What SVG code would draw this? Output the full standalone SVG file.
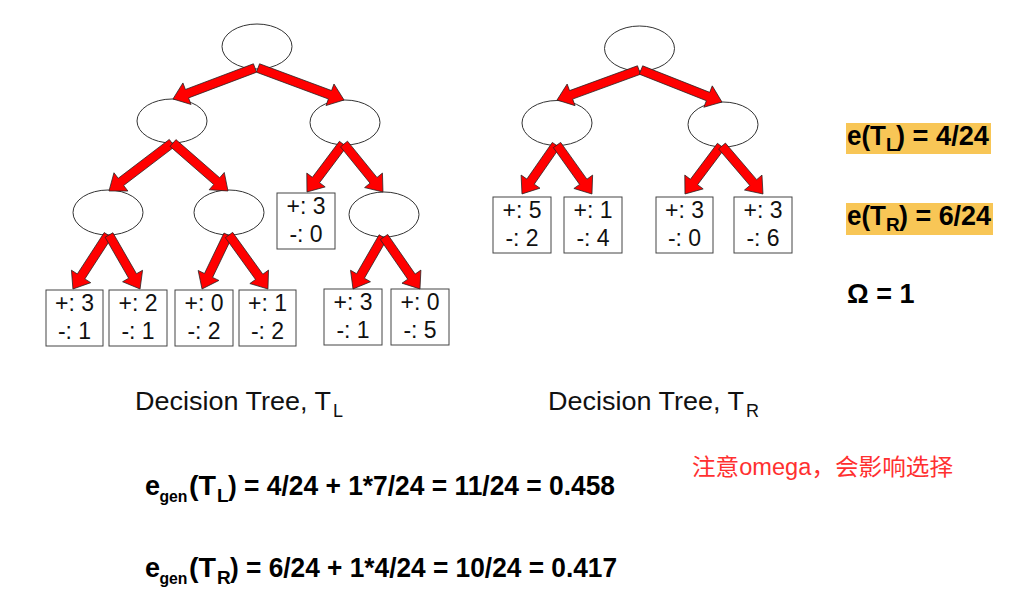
<svg xmlns="http://www.w3.org/2000/svg" width="1028" height="603" viewBox="0 0 1028 603">
<style>
.nd{fill:#fff;stroke:#333;stroke-width:1}
.lf{fill:#fff;stroke:#444;stroke-width:1}
.lt{font-family:"Liberation Sans",Arial,sans-serif;font-size:23px;fill:#111;text-anchor:middle}
.ar{fill:#ff0000;stroke:#222;stroke-width:0.7;stroke-linejoin:miter}
.cap{font-family:"Liberation Sans",Arial,sans-serif;font-size:25px;fill:#111}
.capsub{font-family:"Liberation Sans",Arial,sans-serif;font-size:18px;fill:#111}
.eq{font-family:"Liberation Sans",Arial,sans-serif;font-weight:bold;font-size:27px;fill:#000}
.eqs{font-family:"Liberation Sans",Arial,sans-serif;font-weight:bold;font-size:19px;fill:#000}
.gen{font-family:"Liberation Sans",Arial,sans-serif;font-weight:bold;font-size:16.5px;fill:#000}
.hl{fill:#f8c656}
.note{font-family:"Liberation Sans","Noto Sans CJK SC",sans-serif;font-size:23px;fill:#ff3030}
</style>
<rect width="1028" height="603" fill="#fff"/>

<!-- Left tree nodes -->
<g id="tl-root"><ellipse class="nd" cx="257" cy="46.5" rx="35" ry="22.5"/></g>
<g id="tl-a"><ellipse class="nd" cx="172" cy="121" rx="35" ry="22"/></g>
<g id="tl-b"><ellipse class="nd" cx="345" cy="122.5" rx="35" ry="22.5"/></g>
<g id="tl-c"><ellipse class="nd" cx="108" cy="212.5" rx="35" ry="22.5"/></g>
<g id="tl-d"><ellipse class="nd" cx="229" cy="212.5" rx="35" ry="22.5"/></g>
<g id="tl-e"><ellipse class="nd" cx="384" cy="214.5" rx="35" ry="22.5"/></g>
<g id="tl-leaf30"><rect class="lf" x="277" y="193" width="58" height="56"/><text class="lt" x="306" y="214">+: 3</text><text class="lt" x="306" y="242">-: 0</text></g>
<g id="tl-leaf31"><rect class="lf" x="46" y="290" width="57" height="56"/><text class="lt" x="74.5" y="311">+: 3</text><text class="lt" x="74.5" y="339">-: 1</text></g>
<g id="tl-leaf21"><rect class="lf" x="109" y="290" width="58" height="56"/><text class="lt" x="138" y="311">+: 2</text><text class="lt" x="138" y="339">-: 1</text></g>
<g id="tl-leaf02"><rect class="lf" x="175" y="290" width="58" height="56"/><text class="lt" x="204" y="311">+: 0</text><text class="lt" x="204" y="339">-: 2</text></g>
<g id="tl-leaf12"><rect class="lf" x="239" y="290" width="57" height="56"/><text class="lt" x="267.5" y="311">+: 1</text><text class="lt" x="267.5" y="339">-: 2</text></g>
<g id="tl-leaf31b"><rect class="lf" x="324" y="289" width="58" height="56"/><text class="lt" x="353" y="310">+: 3</text><text class="lt" x="353" y="338">-: 1</text></g>
<g id="tl-leaf05"><rect class="lf" x="391" y="289" width="58" height="56"/><text class="lt" x="420" y="310">+: 0</text><text class="lt" x="420" y="338">-: 5</text></g>

<!-- Right tree nodes -->
<g id="tr-root"><ellipse class="nd" cx="639.5" cy="48.5" rx="35" ry="22.5"/></g>
<g id="tr-a"><ellipse class="nd" cx="557" cy="123" rx="35" ry="22.5"/></g>
<g id="tr-b"><ellipse class="nd" cx="723" cy="124.5" rx="35" ry="22.5"/></g>
<g id="tr-leaf52"><rect class="lf" x="493" y="197" width="58" height="56"/><text class="lt" x="522" y="218">+: 5</text><text class="lt" x="522" y="246">-: 2</text></g>
<g id="tr-leaf14"><rect class="lf" x="564" y="197" width="58" height="56"/><text class="lt" x="593" y="218">+: 1</text><text class="lt" x="593" y="246">-: 4</text></g>
<g id="tr-leaf30"><rect class="lf" x="656" y="197" width="57" height="56"/><text class="lt" x="684.5" y="218">+: 3</text><text class="lt" x="684.5" y="246">-: 0</text></g>
<g id="tr-leaf36"><rect class="lf" x="734" y="197" width="58" height="56"/><text class="lt" x="763" y="218">+: 3</text><text class="lt" x="763" y="246">-: 6</text></g>

<!-- Connectors -->
<g id="connectors">
<polygon class="ar" transform="translate(255,68) rotate(159.3)" points="0,-4.5 72.7,-4.5 72.7,-11.5 87.7,0 72.7,11.5 72.7,4.5 0,4.5"/>
<polygon class="ar" transform="translate(258,68) rotate(20.4)" points="0,-4.5 76.8,-4.5 76.8,-11.5 91.8,0 76.8,11.5 76.8,4.5 0,4.5"/>
<polygon class="ar" transform="translate(172,143) rotate(142.7)" points="0,-4.5 64.2,-4.5 64.2,-11.5 79.2,0 64.2,11.5 64.2,4.5 0,4.5"/>
<polygon class="ar" transform="translate(173,143) rotate(41.1)" points="0,-4.5 58,-4.5 58,-11.5 73,0 58,11.5 58,4.5 0,4.5"/>
<polygon class="ar" transform="translate(343,144) rotate(126.9)" points="0,-4.5 45,-4.5 45,-11.5 60,0 45,11.5 45,4.5 0,4.5"/>
<polygon class="ar" transform="translate(344,144) rotate(50.9)" points="0,-4.5 46.8,-4.5 46.8,-11.5 61.8,0 46.8,11.5 46.8,4.5 0,4.5"/>
<polygon class="ar" transform="translate(108,235) rotate(123)" points="0,-4.5 49.4,-4.5 49.4,-11.5 64.4,0 49.4,11.5 49.4,4.5 0,4.5"/>
<polygon class="ar" transform="translate(109,235) rotate(60.1)" points="0,-4.5 47.3,-4.5 47.3,-11.5 62.3,0 47.3,11.5 47.3,4.5 0,4.5"/>
<polygon class="ar" transform="translate(228,235) rotate(115.7)" points="0,-4.5 44.9,-4.5 44.9,-11.5 59.9,0 44.9,11.5 44.9,4.5 0,4.5"/>
<polygon class="ar" transform="translate(229,235) rotate(54.2)" points="0,-4.5 51.6,-4.5 51.6,-11.5 66.6,0 51.6,11.5 51.6,4.5 0,4.5"/>
<polygon class="ar" transform="translate(383,237) rotate(120)" points="0,-4.5 45,-4.5 45,-11.5 60,0 45,11.5 45,4.5 0,4.5"/>
<polygon class="ar" transform="translate(384,237) rotate(55.3)" points="0,-4.5 48.2,-4.5 48.2,-11.5 63.2,0 48.2,11.5 48.2,4.5 0,4.5"/>
<polygon class="ar" transform="translate(639,70) rotate(159.9)" points="0,-4.5 72.3,-4.5 72.3,-11.5 87.3,0 72.3,11.5 72.3,4.5 0,4.5"/>
<polygon class="ar" transform="translate(641,70) rotate(21.6)" points="0,-4.5 72.1,-4.5 72.1,-11.5 87.1,0 72.1,11.5 72.1,4.5 0,4.5"/>
<polygon class="ar" transform="translate(556,145) rotate(124.8)" points="0,-4.5 44.6,-4.5 44.6,-11.5 59.6,0 44.6,11.5 44.6,4.5 0,4.5"/>
<polygon class="ar" transform="translate(557,145) rotate(54.5)" points="0,-4.5 45.2,-4.5 45.2,-11.5 60.2,0 45.2,11.5 45.2,4.5 0,4.5"/>
<polygon class="ar" transform="translate(721,146) rotate(126.9)" points="0,-4.5 45,-4.5 45,-11.5 60,0 45,11.5 45,4.5 0,4.5"/>
<polygon class="ar" transform="translate(722,146) rotate(49.5)" points="0,-4.5 48.1,-4.5 48.1,-11.5 63.1,0 48.1,11.5 48.1,4.5 0,4.5"/>
</g>

<!-- Captions -->
<text class="cap" x="135" y="410" textLength="196" lengthAdjust="spacingAndGlyphs">Decision Tree, T</text>
<text class="capsub" x="333" y="417">L</text>
<text class="cap" x="548" y="410" textLength="196" lengthAdjust="spacingAndGlyphs">Decision Tree, T</text>
<text class="capsub" x="746" y="417">R</text>

<!-- Right-side equations -->
<rect class="hl" x="846" y="123" width="145" height="31"/>
<text class="eq" x="847" y="145" textLength="39" lengthAdjust="spacingAndGlyphs">e(T</text><text class="eqs" x="886" y="151">L</text><text class="eq" x="896" y="145" textLength="93" lengthAdjust="spacingAndGlyphs">) = 4/24</text>
<rect class="hl" x="846" y="203" width="147" height="32"/>
<text class="eq" x="847" y="225" textLength="39" lengthAdjust="spacingAndGlyphs">e(T</text><text class="eqs" x="886" y="231">R</text><text class="eq" x="899" y="225" textLength="92" lengthAdjust="spacingAndGlyphs">) = 6/24</text>
<text class="eq" x="847" y="303">Ω = 1</text>

<!-- Bottom equations -->
<text class="eq" x="145" y="495">e</text><text class="gen" x="159.5" y="502" textLength="28" lengthAdjust="spacingAndGlyphs">gen</text><text class="eq" x="189" y="495" textLength="27" lengthAdjust="spacingAndGlyphs">(T</text><text class="eqs" x="217" y="502">L</text><text class="eq" x="228" y="495" textLength="387" lengthAdjust="spacingAndGlyphs">) = 4/24 + 1*7/24 = 11/24 = 0.458</text>
<text class="eq" x="145" y="577">e</text><text class="gen" x="159.5" y="584" textLength="28" lengthAdjust="spacingAndGlyphs">gen</text><text class="eq" x="189" y="577" textLength="27" lengthAdjust="spacingAndGlyphs">(T</text><text class="eqs" x="217" y="584">R</text><text class="eq" x="230" y="577" textLength="387" lengthAdjust="spacingAndGlyphs">) = 6/24 + 1*4/24 = 10/24 = 0.417</text>

<text class="note" x="692" y="475" textLength="261" lengthAdjust="spacingAndGlyphs">注意omega，会影响选择</text>
</svg>
